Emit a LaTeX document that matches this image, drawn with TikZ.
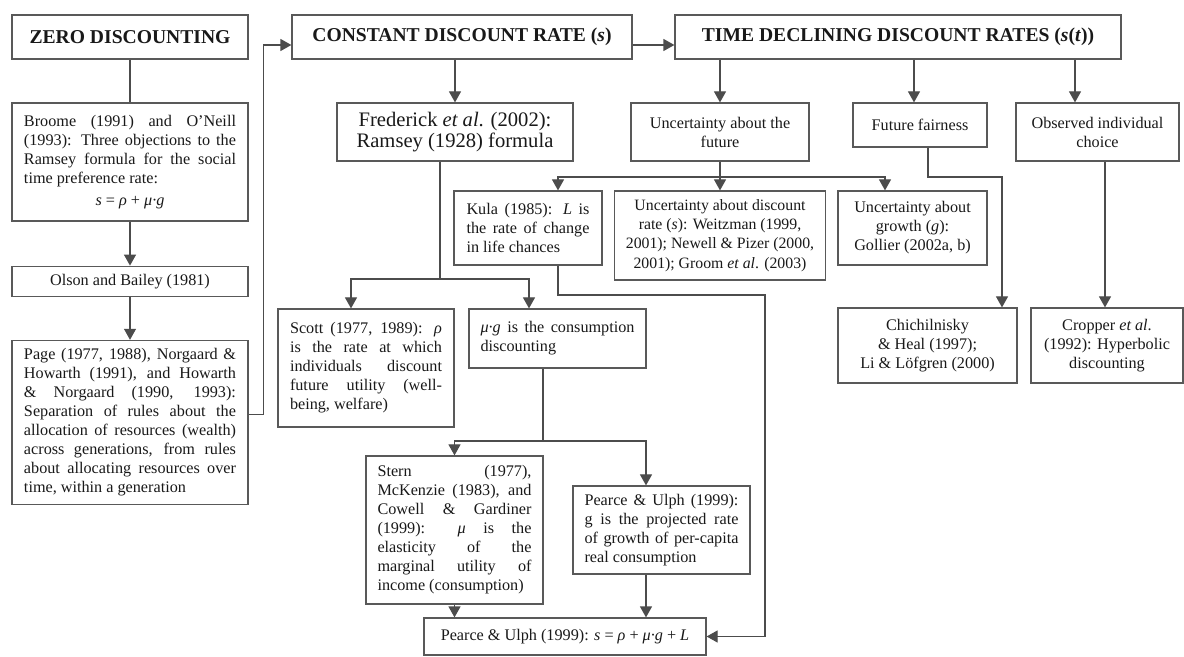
\documentclass[tikz,border=0pt]{standalone}
\usepackage{fontspec}
\setmainfont{Liberation Serif}
\usetikzlibrary{positioning, arrows.meta}

\tikzset{
  box/.style={draw=black!65, line width=0.6pt, text=black!90, font=\fontsize{8.1}{9.5}\selectfont, inner xsep=5.75pt, inner ysep=2pt},
  jbox/.style={box, align=justify},
  head/.style={box, font=\fontsize{9.8}{11}\selectfont\bfseries, minimum height=22pt},
  link/.style={draw=black!70, line width=0.6pt},
  arr/.style={link, -{Triangle[length=5.5pt,width=6pt]}},
}

\begin{document}
\begin{tikzpicture}[x=0.5pt, y=-0.5pt]
\fill[white] (0,0) rectangle (1184,657);
\useasboundingbox (0,0) rectangle (1184,657);

\node[head, minimum width=118pt] (zero) at (130,37) {ZERO DISCOUNTING};
\node[head, minimum width=170pt] (const) at (462,37) {CONSTANT DISCOUNT RATE (\textit{s})};
\node[head, minimum width=223pt] (time) at (898,37) {TIME DECLINING DISCOUNT RATES (\textit{s}(\textit{t}))};

\node[jbox, text width=106pt, inner xsep=6pt, minimum height=59pt] (broome) at (130,162)
  {Broome (1991) and O'Neill\linebreak (1993): Three objections to the\linebreak Ramsey formula for the social\linebreak time preference rate:\par\vspace{1.5pt}{\centering\textit{s} = \textit{ρ} + \textit{μ·g}\par}};
\node[box, minimum width=118pt, minimum height=15pt, below=22pt of broome] (olson) {Olson and Bailey (1981)};
\node[jbox, text width=106pt, inner xsep=6pt, minimum height=82pt, below=21.5pt of olson] (page)
  {Page (1977, 1988), Norgaard \&\linebreak Howarth (1991), and Howarth\linebreak \& Norgaard (1990, 1993):\linebreak Separation of rules about the\linebreak allocation of resources (wealth)\linebreak across generations, from rules\linebreak about allocating resources over\linebreak time, within a generation};

\node[box, align=center, minimum width=118pt, minimum height=29pt, font=\fontsize{10.3}{10.5}\selectfont] (fred) at (455,132)
  {Frederick \textit{et al}. (2002):\\Ramsey (1928) formula};
\node[jbox, text width=76pt, inner xsep=6pt, minimum height=59pt] (scott) at (366,368)
  {Scott (1977, 1989): \textit{ρ}\linebreak is the rate at which\linebreak individuals discount\linebreak future utility (well-\linebreak being, welfare)};
\node[jbox, text width=77pt, minimum height=29.5pt] (mug) at (557.5,338.5)
  {\textit{μ·g} is the consumption\linebreak discounting};
\node[jbox, text width=77pt, minimum height=74pt] (stern) at (454.5,530)
  {\parfillskip=0pt Stern (1977),\linebreak McKenzie (1983), and\linebreak Cowell \& Gardiner\linebreak (1999): \textit{μ} is the\linebreak elasticity of the\linebreak marginal utility of\linebreak income (consumption)};
\node[jbox, text width=77pt, minimum height=44pt] (pearceg) at (661.5,530)
  {Pearce \& Ulph (1999):\linebreak g is the projected rate\linebreak of growth of per-capita\linebreak real consumption};
\node[box, minimum width=141pt, minimum height=18.5pt] (bottom) at (565,636.5)
  {Pearce \& Ulph (1999): \textit{s} = \textit{ρ} + \textit{μ·g} + \textit{L}};

\node[jbox, text width=61.5pt, inner xsep=6.25pt, minimum height=37pt] (kula) at (528,228)
  {Kula (1985): \textit{L} is\linebreak the rate of change\linebreak in life chances};
\node[box, align=center, minimum width=89pt, minimum height=29pt] (ufut) at (720,132) {Uncertainty about the\\future};
\node[box, align=center, minimum width=103pt, minimum height=44.5pt, font=\fontsize{7.9}{9.6}\selectfont] (udisc) at (720,235.5)
  {Uncertainty about discount\\rate (\textit{s}): Weitzman (1999,\\2001); Newell \& Pizer (2000,\\2001); Groom \textit{et al}. (2003)};
\node[box, align=center, minimum width=74.5pt, minimum height=37pt] (ugrowth) at (912.5,228) {Uncertainty about\\growth (\textit{g}):\\Gollier (2002a, b)};
\node[box, minimum width=67pt, minimum height=22pt] (fair) at (920,125) {Future fairness};
\node[box, align=center, minimum width=81.5pt, minimum height=29pt] (obs) at (1097.5,132) {Observed individual\\choice};
\node[box, align=center, minimum width=89.5pt, minimum height=37.5pt] (chich) at (927.5,345.5) {Chichilnisky\\\& Heal (1997);\\Li \& Löfgren (2000)};
\node[box, align=center, minimum width=76pt, minimum height=37.5pt] (cropper) at (1107,345.5) {Cropper \textit{et al}.\\(1992): Hyperbolic\\discounting};

\coordinate (sx) at (351,0);
\coordinate (mx) at (529,0);
\coordinate (gx) at (646,0);
\coordinate (kx) at (558,0);
\coordinate (ux) at (885,0);
\coordinate (fx) at (914,0);
\coordinate (ffx) at (928,0);
\coordinate (ox) at (1075,0);
\coordinate (cx) at (1105,0);
\coordinate (fj) at (440,279);
\coordinate (mj) at (543,441);
\coordinate (uj) at (720,177);
\coordinate (kj) at (765,295);
\coordinate (fcj) at (1002,177);

\draw[link] (zero) -- (broome);
\draw[arr] (broome) -- (olson);
\draw[arr] (olson) -- (page);
\draw[arr] ([yshift=4pt]page.east) -- ++(7.5pt,0) |- ([yshift=-4pt]const.west);
\draw[arr] ([yshift=-4pt]const.east) -- ([yshift=-4pt]time.west);

\draw[arr] (fred.north |- const.south) -- (fred.north);
\draw[link] (fred.south -| fj) -- (fj);
\draw[arr] (fj) -| (scott.north -| sx);
\draw[arr] (fj) -| (mug.north -| mx);
\draw[link] (mug.south -| mj) -- (mj);
\draw[arr] (mj) -| (stern.north);
\draw[arr] (mj) -| (pearceg.north -| gx);
\draw[arr] (stern.south) -- (stern.south |- bottom.north);
\draw[arr] (pearceg.south -| gx) -- (bottom.north -| gx);

\draw[arr] (ufut.north |- time.south) -- (ufut.north);
\draw[arr] (time.south -| fx) -- (fair.north -| fx);
\draw[arr] (time.south -| ox) -- (obs.north -| ox);
\draw[link] (ufut.south) -- (uj);
\draw[arr] (uj) -| (kula.north -| kx);
\draw[arr] (uj) -- (udisc.north);
\draw[arr] (uj) -| (ugrowth.north -| ux);
\draw[arr] (kula.south -| kx) |- (kj) |- (bottom.east);
\draw[arr] (fair.south -| ffx) |- (fcj) -- (chich.north -| fcj);
\draw[arr] (obs.south -| cx) -- (cropper.north -| cx);
\end{tikzpicture}
\end{document}
